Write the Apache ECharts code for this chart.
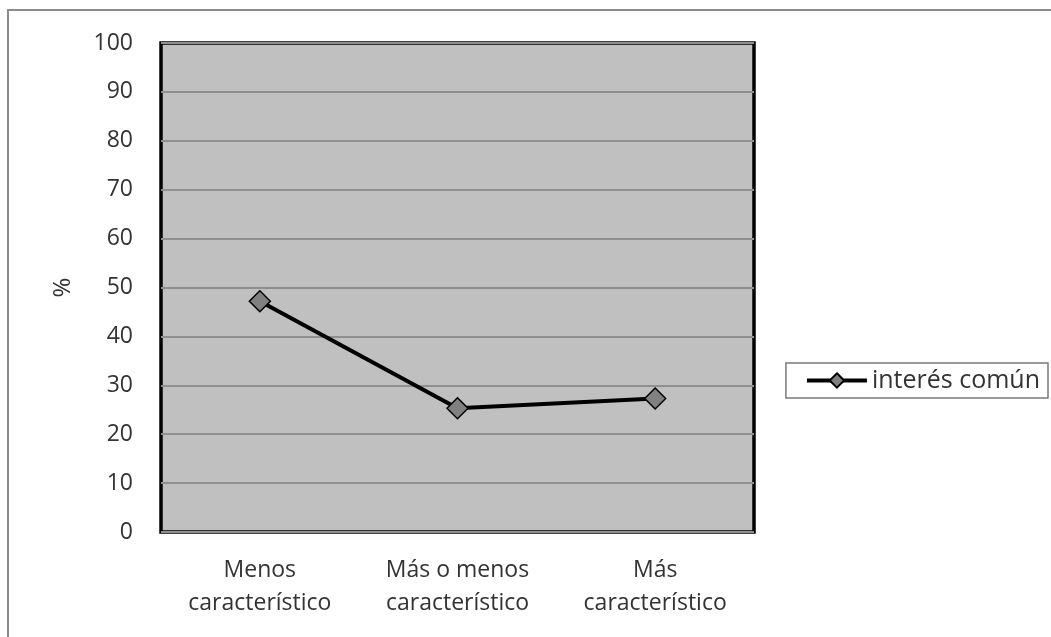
<!DOCTYPE html>
<html>
<head>
  <meta charset="UTF-8">
  <title>interés común</title>
  <script src="https://cdn.jsdelivr.net/npm/echarts@6/dist/echarts.min.js"></script>
  <style type="text/css">
  body { margin: 0; background: #ffffff; }
  #frame {
    position: absolute; left: 7px; top: 9px; width: 1100px; height: 700px;
    border-left: 2px solid #8c8c8c; border-top: 2px solid #8c8c8c;
    pointer-events: none;
  }
  </style>
</head>
<body>
  <div id="chart" style="width:1051px; height:637px;"></div>
  <div id="frame"></div>

  <script>
    var categories = ['Menos\ncaracterístico', 'Más o menos\ncaracterístico', 'Más\ncaracterístico']
    var interesComun = [47.2, 25.3, 27.3]
    var seriesName = 'interés común'

    var chart = echarts.init(document.getElementById('chart'), null, {renderer: 'canvas'});
    chart.setOption({
      animation: false,
      textStyle: {fontFamily: 'Open Sans'},
      grid: {
        left: 161, top: 43, right: 297, bottom: 105,
        show: true, backgroundColor: '#c0c0c0', borderColor: '#000', borderWidth: 3.5
      },
      legend: {
        right: 3, top: 363, orient: 'vertical',
        padding: [5, 8, 5, 19],
        borderColor: '#7a7a7a', borderWidth: 1.5, borderRadius: 0,
        itemWidth: 60, itemHeight: 18, itemGap: 4,
        lineStyle: {width: 4, color: '#000'},
        textStyle: {fontSize: 25, color: '#333', fontFamily: 'Open Sans'},
        data: [seriesName]
      },
      xAxis: {
        type: 'category', data: categories, boundaryGap: true,
        axisLine: {show: false}, axisTick: {show: false},
        axisLabel: {fontSize: 23, color: '#333', lineHeight: 33, margin: 22}
      },
      yAxis: {
        type: 'value', min: 0, max: 100, interval: 10,
        name: '%', nameLocation: 'middle', nameGap: 86, nameRotate: 90,
        nameTextStyle: {fontSize: 24, color: '#333'},
        axisLine: {show: false}, axisTick: {show: false},
        axisLabel: {fontSize: 23, color: '#333', margin: 28},
        splitLine: {lineStyle: {color: '#8f8f8f', width: 2}}
      },
      series: [{
        name: seriesName, type: 'line', data: interesComun,
        symbol: 'diamond', symbolSize: 21,
        lineStyle: {color: '#000', width: 4},
        itemStyle: {color: '#808080', borderColor: '#000', borderWidth: 1.5}
      }]
    });
  </script>
</body>
</html>
